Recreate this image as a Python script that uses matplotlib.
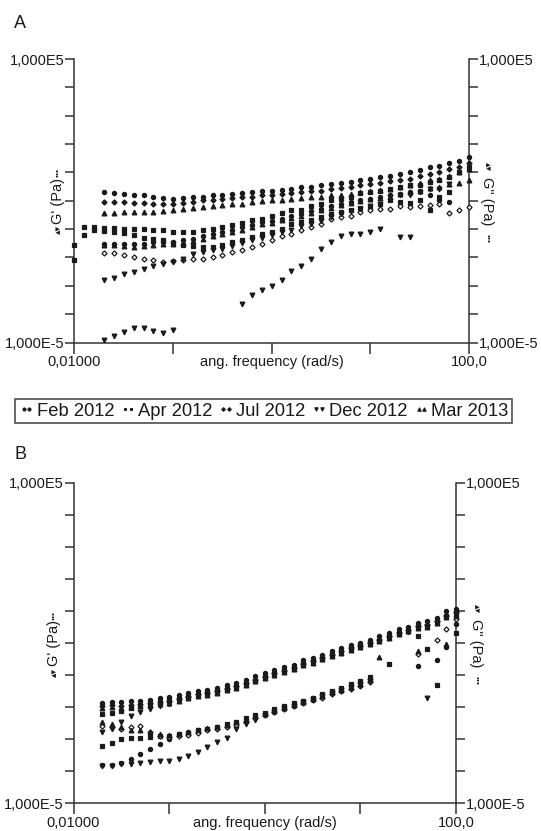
import numpy as np
import matplotlib.pyplot as plt
from matplotlib.lines import Line2D

plt.rcParams['font.family'] = ['Liberation Sans', 'DejaVu Sans']

# angular frequency grid of the sweeps (rad/s), 10 points per decade
freq = [0.0100, 0.0126, 0.0158, 0.0200, 0.0251, 0.0316, 0.0398, 0.0501, 0.0631, 0.0794,
        0.100, 0.126, 0.158, 0.200, 0.251, 0.316, 0.398, 0.501, 0.631, 0.794,
        1.00, 1.26, 1.58, 2.00, 2.51, 3.16, 3.98, 5.01, 6.31, 7.94,
        10.0, 12.6, 15.8, 20.0, 25.1, 31.6, 39.8, 50.1, 63.1, 79.4, 100.0]

samples = ['Feb 2012', 'Apr 2012', 'Jul 2012', 'Dec 2012', 'Mar 2013']
nan = np.nan

# ---- panel A: log10 of modulus (Pa); each list starts at grid index a_start_*
a_start_feb, a_start_apr, a_start_jul, a_start_dec, a_start_mar = 3, 0, 3, 3, 3

a_feb_g1 = [0.31, 0.27, 0.25, 0.22, 0.19, 0.15, 0.11, 0.07, 0.11, 0.13, 0.15, 0.19, 0.22,
            0.25, 0.27, 0.31, 0.34, 0.36, 0.39, 0.42, 0.48, 0.50, 0.54, 0.60, 0.62, 0.66,
            0.72, 0.77, 0.83, 0.89, 0.95, 1.01, 1.07, 1.19, 1.24, 1.33, 1.42, 1.54]
a_feb_g2 = [-1.51, -1.51, -1.51, -1.51, -1.51, -1.46, -1.46, -1.46, -1.40, -1.34, -1.26,
            -1.16, -1.10, -1.04, -0.93, -0.87, -0.75, -0.72, -0.63, -0.52, -0.46, -0.36,
            -0.28, -0.20, -0.13, -0.05, 0.01, 0.07, 0.13, 0.19, 0.25, 0.31, 0.36, 0.19,
            0.04, -0.05]
a_apr_g1 = [-1.55, -0.93, -0.93, -0.96, -0.96, -0.99, -0.99, -1.01, -1.04, -1.04, -1.10,
            -1.10, -1.10, -1.04, -0.99, -0.93, -0.87, -0.79, -0.69, -0.63, -0.52, -0.43,
            -0.34, -0.32, -0.20, -0.13, 0.01, 0.07, 0.15, 0.27, 0.31, 0.36, 0.42, 0.48,
            0.54, 0.54, 0.66, 0.72, 0.83, 1.01, 1.19]
a_apr_g2 = [-2.10, -1.22, -1.04, -1.07, -1.10, -1.14, -1.22, -1.30, -1.34, -1.40, -1.49,
            -1.57, -1.61, -1.63, -1.63, -1.57, -1.46, -1.37, -1.28, -1.16, -1.10, -0.99,
            -0.83, -0.75, -0.69, -0.58, -0.46, -0.38, -0.32, -0.25, -0.22, -0.11, 0.04,
            -0.05, -0.08, 0.01, -0.32, 0.13, 0.31]
a_jul_g1 = [-0.05, -0.05, -0.05, -0.08, -0.08, -0.11, -0.11, -0.11, -0.08, -0.05, 0.01,
            0.04, 0.07, 0.11, 0.13, 0.15, 0.19, 0.21, 0.25, 0.27, 0.31, 0.34, 0.36, 0.42,
            0.46, 0.48, 0.54, 0.58, 0.62, 0.68, 0.72, 0.77, 0.86, 0.95, 1.01, 1.13, 1.19, 1.33]
a_jul_g2 = [-1.84, -1.84, -1.90, -1.98, -2.04, -2.10, -2.16, -2.14, -2.08, -2.04, -2.04,
            -1.98, -1.92, -1.81, -1.73, -1.63, -1.51, -1.37, -1.26, -1.16, -1.04, -0.93,
            -0.83, -0.66, -0.58, -0.52, -0.40, -0.34, -0.28, -0.28, -0.20, -0.22, -0.20,
            -0.16, -0.11, -0.43, -0.34, -0.22]
a_dec_g1 = [-2.78, -2.71, -2.59, -2.51, -2.39, -2.31, -2.22, -2.16, -2.04, -1.87, -1.81,
            -1.75, -1.69, -1.61, -1.49, -1.40, -1.30, -1.19, -1.10, -1.02, -0.90, -0.81,
            -0.72, -0.58, -0.48, -0.36, -0.28, -0.20, -0.13, 0.13, 0.19, 0.19, 0.31, 0.42,
            0.42, 0.60]
a_dec_g2 = [-4.92, -4.78, -4.62, -4.48, -4.48, -4.60, -4.65, -4.57, nan, nan, nan, nan,
            nan, nan, -3.65, -3.31, -3.16, -3.00, -2.80, -2.49, -2.30, -2.04, -1.69, -1.46,
            -1.26, -1.16, -1.16, -1.10, -0.99, nan, -1.28, -1.28]
a_mar_g1 = [-0.43, -0.42, -0.40, -0.40, -0.38, -0.38, -0.36, -0.34, -0.28, -0.25, -0.22,
            -0.20, -0.16, -0.13, -0.11, -0.05, -0.01, 0.01, 0.04, 0.07, 0.11, 0.13, 0.15,
            0.19, 0.22, 0.25, 0.31, 0.34, 0.39, 0.42, 0.48, 0.54, 0.62, 0.72, 0.77, 0.89,
            1.01, 1.13]
a_mar_g2 = [-1.57, -1.57, -1.61, -1.63, -1.61, -1.57, -1.54, -1.51, -1.49, -1.42, -1.34,
            -1.26, -1.16, -1.10, -1.02, -0.93, -0.83, -0.79, -0.69, -0.60, -0.52, -0.43,
            -0.34, -0.25, -0.16, -0.08, -0.01, 0.06, 0.11, 0.15, 0.25, 0.31, 0.36, 0.46,
            0.48, 0.58, 0.62, 0.72]

# ---- panel B: all sweeps start at grid index 3 (0.02 rad/s)
b_start = 3

b_feb_g1 = [-1.87, -1.85, -1.85, -1.82, -1.80, -1.77, -1.73, -1.68, -1.63, -1.57, -1.49,
            -1.46, -1.39, -1.31, -1.25, -1.15, -1.04, -0.95, -0.84, -0.75, -0.67, -0.52,
            -0.46, -0.36, -0.25, -0.15, -0.05, 0.01, 0.11, 0.21, 0.32, 0.43, 0.51, 0.64,
            0.68, 0.78, 0.99, 1.05]
b_feb_g2 = [-3.81, -3.81, -3.75, -3.62, -3.46, -3.30, -3.15, -2.99, -2.84, -2.79, -2.73,
            -2.68, -2.63, -2.58, -2.49, -2.42, -2.31, -2.23, -2.13, -2.04, -1.91, -1.82,
            -1.73, -1.63, -1.52, -1.42, -1.31, -1.21, -1.11, nan, nan, nan, nan, -0.73,
            nan, -0.53, -0.13, 0.59]
b_apr_g1 = [-2.23, -2.19, -2.11, -2.04, -1.96, -1.90, -1.83, -1.79, -1.74, -1.69, -1.62,
            -1.58, -1.52, -1.44, -1.37, -1.28, -1.17, -1.07, -0.97, -0.88, -0.80, -0.66,
            -0.58, -0.49, -0.38, -0.28, -0.19, -0.10, -0.01, 0.08, 0.19, 0.30, 0.38, 0.50,
            0.54, 0.65, 0.83, 0.93]
b_apr_g2 = [-3.23, -3.12, -2.99, -2.97, -2.97, -2.94, -2.89, -2.89, -2.84, -2.81, -2.73,
            -2.68, -2.63, -2.52, -2.45, -2.34, -2.24, -2.18, -2.06, -1.98, -1.87, -1.80,
            -1.70, -1.59, -1.49, -1.39, -1.28, -1.18, -1.07, nan, -0.66, nan, nan, 0.22,
            -0.19, -1.30, nan, 0.30]
b_jul_g1 = [-1.95, -1.94, -1.96, -1.93, -1.90, -1.88, -1.85, -1.80, -1.74, -1.68, -1.60,
            -1.56, -1.50, -1.42, -1.35, -1.26, -1.15, -1.05, -0.95, -0.86, -0.77, -0.64,
            -0.56, -0.46, -0.36, -0.26, -0.16, -0.08, 0.01, 0.10, 0.22, 0.33, 0.42, 0.53,
            0.56, 0.68, 0.86, 0.96]
b_jul_g2 = [-2.58, -2.63, -2.68, -2.63, -2.58, -2.79, -2.89, -2.94, -2.89, -2.87, -2.81,
            -2.73, -2.68, -2.63, -2.55, -2.45, -2.34, -2.26, -2.16, -2.06, -1.96, -1.87,
            -1.77, -1.70, -1.59, -1.49, -1.42, -1.33, -1.23, nan, nan, nan, nan, -0.35,
            nan, 0.09, 0.43, 0.74]
b_dec_g1 = [-2.79, -2.68, -2.47, -2.28, -2.16, -2.06, -1.98, -1.90, -1.78, -1.72, -1.65,
            -1.60, -1.54, -1.46, -1.39, -1.30, -1.19, -1.09, -0.99, -0.90, -0.81, -0.68,
            -0.60, -0.50, -0.40, -0.30, -0.20, -0.12, -0.03, 0.06, 0.17, 0.28, 0.36, 0.48,
            0.52, 0.63, 0.82, 0.92]
b_dec_g2 = [-3.83, -3.83, -3.77, -3.77, -3.75, -3.72, -3.69, -3.67, -3.62, -3.54, -3.41,
            -3.25, -3.10, -2.96, -2.68, -2.52, -2.39, -2.26, -2.16, -2.04, -1.96, -1.85,
            -1.77, -1.65, -1.56, -1.46, -1.39, -1.31, -1.18, nan, nan, nan, nan, nan, -1.73]
b_mar_g1 = [-2.02, -2.00, -2.03, -2.00, -1.97, -1.94, -1.90, -1.86, -1.80, -1.73, -1.66,
            -1.61, -1.55, -1.47, -1.40, -1.31, -1.20, -1.10, -1.00, -0.90, -0.82, -0.70,
            -0.61, -0.51, -0.41, -0.31, -0.21, -0.13, -0.04, 0.05, 0.16, 0.27, 0.37, 0.47,
            0.50, 0.62, 0.80, 0.90]
b_mar_g2 = [-2.47, -2.52, -2.63, -2.73, -2.73, -2.79, -2.84, -2.87, -2.84, -2.79, -2.73,
            -2.66, -2.61, -2.55, -2.47, -2.39, -2.28, -2.21, -2.11, -2.03, -1.93, -1.83,
            -1.75, -1.65, -1.54, -1.46, -1.36, -1.28, -1.13, -0.45, nan, nan, nan, -0.24,
            nan, nan, -0.04, 0.85]

ytick_vals = [1e-5, 1e-4, 1e-3, 1e-2, 1e-1, 1e0, 1e1, 1e2, 1e3, 1e4, 1e5]
ytick_text = ['1,000E-5', '', '', '', '', '', '', '', '', '', '1,000E5']
xtick_vals = [0.01, 0.1, 1, 10, 100]
xtick_text = ['0,01000', '', '', '', '100,0']

ink = '#1a1a1a'
markers = {'Feb 2012': ('o', 3.0), 'Apr 2012': ('s', 2.8), 'Jul 2012': ('D', 2.6),
           'Dec 2012': ('v', 3.4), 'Mar 2013': ('^', 3.4)}
hollow_g2 = {'Jul 2012'}

panel_a = [('Feb 2012', a_start_feb, a_feb_g1, a_feb_g2),
           ('Apr 2012', a_start_apr, a_apr_g1, a_apr_g2),
           ('Jul 2012', a_start_jul, a_jul_g1, a_jul_g2),
           ('Dec 2012', a_start_dec, a_dec_g1, a_dec_g2),
           ('Mar 2013', a_start_mar, a_mar_g1, a_mar_g2)]
panel_b = [('Feb 2012', b_start, b_feb_g1, b_feb_g2),
           ('Apr 2012', b_start, b_apr_g1, b_apr_g2),
           ('Jul 2012', b_start, b_jul_g1, b_jul_g2),
           ('Dec 2012', b_start, b_dec_g1, b_dec_g2),
           ('Mar 2013', b_start, b_mar_g1, b_mar_g2)]


def draw_series(ax, name, start, logvals, hollow=False):
    mk, ms = markers[name]
    x = np.array(freq[start:start + len(logvals)])
    y = 10.0 ** np.array(logvals)
    ax.plot(x, y, ls='none', marker=mk, ms=ms, color=ink,
            mfc='white' if hollow else ink, mew=0.9, clip_on=False, zorder=3)


def label_with_symbols(ax, text, side, dx):
    # y-axis title flanked by the small series symbols
    if side == 'left':
        x, rot, pre_dy, suf_dy = 0, 90, -21, 20
    else:
        x, rot, pre_dy, suf_dy = 1, 270, 25, -27
    kw = dict(xycoords='axes fraction', textcoords='offset points', ha='center',
              va='center', rotation=rot, color=ink)
    ax.annotate(text, xy=(x, 0.5), xytext=(dx, 0), fontsize=10.5, **kw)
    ax.annotate('\u25b4\u25be', xy=(x, 0.5), xytext=(dx, pre_dy), fontsize=6.5, **kw)
    ax.annotate('\u2022\u2022\u2022', xy=(x, 0.5), xytext=(dx, suf_dy), fontsize=6, **kw)


def setup_axes(ax, left_dx, right_dx):
    ax.set_xscale('log')
    ax.set_yscale('log')
    ax.set_xlim(0.01, 100)
    ax.set_ylim(1e-5, 1e5)
    ax.spines['top'].set_visible(False)
    for s in ('left', 'right', 'bottom'):
        ax.spines[s].set_linewidth(1.1)
        ax.spines[s].set_color('#333333')
    ax.set_yticks(ytick_vals)
    ax.set_yticklabels(ytick_text)
    ax.set_xticks(xtick_vals)
    ax.set_xticklabels(xtick_text)
    ax.minorticks_off()
    ax.tick_params(axis='y', which='both', left=True, right=True, labelleft=True,
                   labelright=True, direction='out', length=6.5, width=1.1, pad=0.8,
                   labelsize=10.5, colors='#333333', labelcolor=ink)
    ax.tick_params(axis='x', which='both', direction='out', length=8.0, width=1.1,
                   pad=1.2, labelsize=10.5, colors='#333333', labelcolor=ink)
    ax.annotate('ang. frequency (rad/s)', xy=(0.5, 0), xycoords='axes fraction',
                xytext=(0, -9.2), textcoords='offset points', ha='center', va='top',
                fontsize=10.5, color=ink)
    label_with_symbols(ax, "G' (Pa)", 'left', left_dx)
    label_with_symbols(ax, 'G" (Pa)', 'right', right_dx)


fig = plt.figure(figsize=(5.41, 8.31), dpi=100)
ax_a = fig.add_axes([0.1377, 0.5878, 0.7292, 0.3412])
ax_b = fig.add_axes([0.1359, 0.0335, 0.7070, 0.3853])

for ax, series in ((ax_a, panel_a), (ax_b, panel_b)):
    for name, start, g1, g2 in series:
        draw_series(ax, name, start, g1)
        draw_series(ax, name, start, g2, hollow=name in hollow_g2)

setup_axes(ax_a, -11.7, 13.0)
setup_axes(ax_b, -13.7, 14.5)

fig.text(0.026, 0.982, 'A', fontsize=13, color=ink, va='top', ha='left')
fig.text(0.026, 0.463, 'B', fontsize=13, color=ink, va='top', ha='left')

# legend: two symbols per sample (G' and G")
handles = [Line2D([], [], ls='none', marker=markers[n][0], ms=markers[n][1] * 0.75,
                  color=ink, mew=0.7) for n in samples]
leg = fig.legend(handles, samples, loc='center', bbox_to_anchor=(0.487, 0.5054),
                 ncol=5, numpoints=2, fontsize=13.2, frameon=True, fancybox=False,
                 handlelength=0.9, handletextpad=0.1, columnspacing=0.3,
                 borderpad=0.2, borderaxespad=0, labelspacing=0)
leg.get_frame().set_edgecolor('#222222')
leg.get_frame().set_linewidth(1.2)
for t in leg.get_texts():
    t.set_color(ink)

fig.savefig('out.png', dpi=100)
